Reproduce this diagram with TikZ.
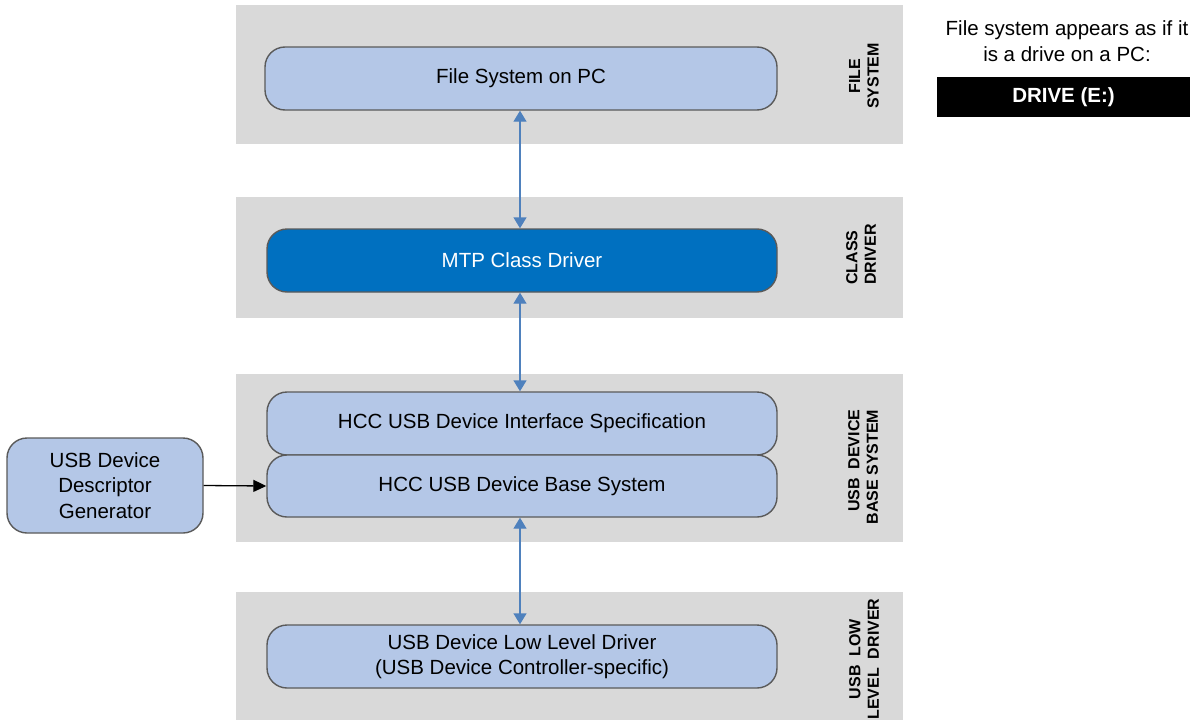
\documentclass[tikz,border=0pt]{standalone}
\usepackage{fontspec}
\setmainfont{Liberation Sans}
\usetikzlibrary{arrows.meta,calc}
\definecolor{bandgray}{HTML}{D9D9D9}
\definecolor{boxfill}{HTML}{B4C7E7}
\definecolor{boxline}{HTML}{5A5A5A}
\definecolor{mtpblue}{HTML}{0070C0}
\definecolor{arrowblue}{HTML}{4F81BD}
\begin{document}
\begin{tikzpicture}[x=1pt,y=-1pt,
  layerbox/.style={draw=boxline, line width=1.4pt, fill=boxfill, rounded corners=20pt,
    minimum width=510pt, minimum height=63pt, inner sep=0pt,
    font=\fontsize{20.5pt}{25pt}\selectfont, align=center},
  sidelabel/.style={rotate=90, font=\bfseries\fontsize{16pt}{18.5pt}\selectfont, inner sep=0pt},
  dblarrow/.style={draw=arrowblue, line width=1.4pt,
    {Triangle[length=11pt,width=13pt,fill=arrowblue]}-{Triangle[length=11pt,width=13pt,fill=arrowblue]}},
  blkarrow/.style={draw=black, line width=1.3pt, -{Triangle[length=13pt,width=12pt]}}
]
\clip (0,0) rectangle (1202,720);
\fill[white] (0,0) rectangle (1202,720);
% bands
\fill[bandgray] (236,5) rectangle (903,144);
\fill[bandgray] (236,197) rectangle (903,318);
\fill[bandgray] (236,374) rectangle (903,542);
\fill[bandgray] (236,592) rectangle (903,760);
% boxes
\node[layerbox, minimum width=512pt] (fs) at (521,78.5) {File System on PC};
\node[layerbox, fill=mtpblue, text=white] (mtp) at (522,260.5) {MTP Class Driver};
\node[layerbox] (hcci) at (522,423.5) {HCC USB Device Interface Specification};
\node[layerbox, minimum height=62pt] (hccb) at (522,486) {HCC USB Device Base System};
\node[layerbox] (ll) at (522,656.5) {USB Device Low Level Driver\\(USB Device Controller-specific)};
\node[layerbox, minimum width=196pt, minimum height=95pt, font=\fontsize{20.5pt}{25.5pt}\selectfont] (gen) at (105,485.5) {USB Device\\Descriptor\\Generator};
% side labels
\node[sidelabel, align=center] (l1) at (864,76) {FILE\\SYSTEM};
\node[sidelabel, align=left] (l2) at (861,254.5) {CLASS\\DRIVER};
\node[sidelabel, align=right] (l3) at (863,467) {USB~~DEVICE\\BASE~SYSTEM};
\node[sidelabel, align=center] (l4) at (864,659) {USB~~LOW\\LEVEL~~DRIVER};
% right note
\node[font=\fontsize{20.5pt}{26pt}\selectfont, align=center, inner sep=0pt] (note) at (1067,41) {File system appears as if it\\is a drive on a PC:};
\node[fill=black, text=white, font=\bfseries\fontsize{20.5pt}{22pt}\selectfont, minimum width=253pt, minimum height=40pt, inner sep=0pt] (drive) at (1063.5,97) {DRIVE (E:)};
% connectors
\coordinate (a1) at (520,0);
\draw[dblarrow] (a1 |- fs.south) -- (a1 |- mtp.north);
\draw[dblarrow] (a1 |- mtp.south) -- (a1 |- hcci.north);
\draw[dblarrow] (a1 |- hccb.south) -- (a1 |- ll.north);
\draw[blkarrow] (gen.east) -- (hccb.west);
\end{tikzpicture}
\end{document}
